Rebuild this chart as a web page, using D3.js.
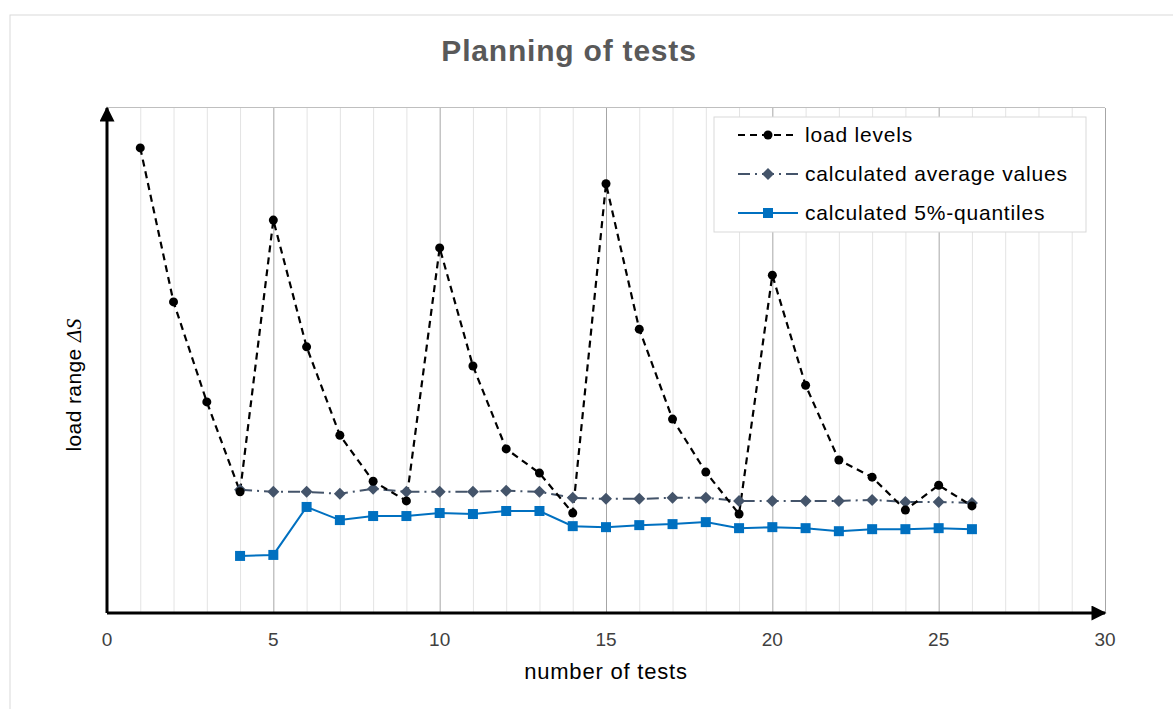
<!DOCTYPE html>
<html>
<head>
<meta charset="utf-8">
<script src="https://cdn.jsdelivr.net/npm/d3@7"></script>
<style>
  body { margin: 0; background: #fff; }
  text { font-family: "Liberation Sans", Arial, sans-serif; }
</style>
</head>
<body>
<svg id="chart"></svg>
<script>
// data (y in arbitrary units, no y ticks in original)
var loadX = d3.range(1, 27);
var loadLevels = [92.1, 61.6, 41.8, 24.0, 77.8, 52.7, 35.2, 26.1, 22.2, 72.3, 48.9, 32.5, 27.7,
                  19.8, 85.0, 56.2, 38.4, 27.9, 19.6, 66.9, 45.1, 30.3, 26.9, 20.4, 25.3, 21.2];
var calcX = d3.range(4, 27);
var avgValues = [24.4, 24.0, 24.0, 23.6, 24.6, 24.0, 24.0, 24.0, 24.2, 24.0, 22.8, 22.6, 22.6,
                 22.8, 22.8, 22.2, 22.2, 22.2, 22.2, 22.4, 22.0, 22.0, 21.8];
var quantiles = [11.3, 11.5, 21.0, 18.4, 19.2, 19.2, 19.8, 19.6, 20.2, 20.2, 17.2, 17.0, 17.4,
                 17.6, 18.0, 16.8, 17.0, 16.8, 16.2, 16.6, 16.6, 16.8, 16.6];
var xTicks = [0, 5, 10, 15, 20, 25, 30];
var legendLabels = ["load levels", "calculated average values", "calculated 5%-quantiles"];

var width = 1173, height = 709;
var svg = d3.select("#chart").attr("width", width).attr("height", height);

var x = d3.scaleLinear().domain([0, 30]).range([107, 1105]);
var y = d3.scaleLinear().domain([0, 100]).range([613, 108]);

// outer frame
svg.append("rect")
  .attr("x", 10).attr("y", 15).attr("width", 1175).attr("height", 700)
  .attr("fill", "none").attr("stroke", "#d9d9d9").attr("stroke-width", 1);

svg.append("text")
  .attr("x", 569).attr("y", 61)
  .attr("text-anchor", "middle")
  .style("font-size", "30px").style("font-weight", "bold")
  .style("letter-spacing", "0.8px")
  .attr("fill", "#595959")
  .text("Planning of tests");

// grid
var grid = svg.append('g')
grid.selectAll("line")
  .data(d3.range(1, 31))
 .enter().append("line")
  .attr("x1", function(d) { return x(d) + 0.5; })
  .attr("x2", function(d) { return x(d) + 0.5; })
  .attr("y1", y(100)).attr("y2", y(0))
  .attr("stroke", function(d) { return d % 5 == 0 ? "#a6a6a6" : "#e3e3e3"; })
  .attr("stroke-width", 1);

grid.append("line")
  .attr("x1", x(0)).attr("x2", x(30))
  .attr("y1", y(100) - 0.5).attr("y2", y(100) - 0.5)
  .attr("stroke", "#bfbfbf");

// axes with arrows
var defs = svg.append("defs");
defs.append("marker")
  .attr("id", "arrow")
  .attr("viewBox", "0 0 10 10")
  .attr("refX", 9).attr("refY", 5)
  .attr("markerWidth", 6).attr("markerHeight", 5)
  .attr("markerUnits", "strokeWidth")
  .attr("orient", "auto")
 .append("path")
  .attr("d", "M0,0 L10,5 L0,10 z")
  .attr("fill", "#000");

svg.append("line")
  .attr("x1", x(0)).attr("x2", x(30))
  .attr("y1", y(0)).attr("y2", y(0))
  .attr("stroke", "#000").attr("stroke-width", 3)
  .attr("marker-end", "url(#arrow)");

svg.append("line")
  .attr("x1", x(0)).attr("x2", x(0))
  .attr("y1", y(0)).attr("y2", y(100))
  .attr("stroke", "#000").attr("stroke-width", 3)
  .attr("marker-end", "url(#arrow)");

// x tick labels
svg.append('g').selectAll("text")
  .data(xTicks)
 .enter().append("text")
  .attr("x", function(d) { return x(d); })
  .attr("y", 646)
  .attr("text-anchor", "middle")
  .style("font-size", "19px")
  .attr("fill", "#404040")
  .text(function(d) { return d; });

svg.append("text")
  .attr("x", x(15)).attr("y", 679)
  .attr("text-anchor", "middle")
  .style("font-size", "22px")
  .style("letter-spacing", "0.8px")
  .attr("fill", "#000")
  .text("number of tests");

var yl = svg.append("text")
  .attr("transform", "translate(81,385) rotate(-90)")
  .attr("text-anchor", "middle")
  .style("font-size", "21px")
  .style("letter-spacing", "0.4px")
  .attr("fill", "#000");
yl.append("tspan").text("load range ");
yl.append("tspan").style("font-family", "'Liberation Serif', serif").style("font-style", "italic").text("ΔS");

// series
var lineFn = d3.line()
  .x(function(d) { return x(d[0]); })
  .y(function(d) { return y(d[1]); });

var loadData = d3.zip(loadX, loadLevels);
var avgData = d3.zip(calcX, avgValues);
var qData = d3.zip(calcX, quantiles);

var points = svg.append('g')

points.append("path")
  .attr("d", lineFn(avgData))
  .attr("fill", "none").attr("stroke", "#44546a").attr("stroke-width", 2)
  .attr("stroke-dasharray", "12,5,2,5");

points.append("path")
  .attr("d", lineFn(qData))
  .attr("fill", "none").attr("stroke", "#0070c0").attr("stroke-width", 2);

points.append("path")
  .attr("d", lineFn(loadData))
  .attr("fill", "none").attr("stroke", "#000").attr("stroke-width", 2.2)
  .attr("stroke-dasharray", "7,5");

var diamond = "M0,-6L6,0L0,6L-6,0Z";

points.selectAll(".avg")
  .data(avgData)
 .enter().append("path")
  .attr("class", "avg")
  .attr("transform", function(d) { return "translate(" + x(d[0]) + "," + y(d[1]) + ")"; })
  .attr("d", diamond)
  .attr("fill", "#44546a");

points.selectAll(".q")
  .data(qData)
 .enter().append("rect")
  .attr("class", "q")
  .attr("x", function(d) { return x(d[0]) - 5; })
  .attr("y", function(d) { return y(d[1]) - 5; })
  .attr("width", 10).attr("height", 10)
  .attr("fill", "#0070c0");

points.selectAll(".ld")
  .data(loadData)
 .enter().append("circle")
  .attr("class", "ld")
  .attr("cx", function(d) { return x(d[0]); })
  .attr("cy", function(d) { return y(d[1]); })
  .attr("r", 4.5)
  .attr("fill", "#000");

// legend
var legend = svg.append('g').attr("transform", "translate(714,117)");
legend.append("rect")
  .attr("width", 372).attr("height", 115)
  .attr("fill", "#fff").attr("stroke", "#d9d9d9");

var styles = [
  { color: "#000", dash: "7,5", w: 2.2 },
  { color: "#44546a", dash: "12,5,2,5", w: 2 },
  { color: "#0070c0", dash: null, w: 2 }
];

legendLabels.forEach(function(label, i) {
  var ly = 18 + i * 39;
  var st = styles[i];
  legend.append("line")
    .attr("x1", 24).attr("x2", 84)
    .attr("y1", ly).attr("y2", ly)
    .attr("stroke", st.color).attr("stroke-width", st.w)
    .attr("stroke-dasharray", st.dash);
  if (i == 0) {
    legend.append("circle").attr("cx", 54).attr("cy", ly).attr("r", 4.5).attr("fill", "#000");
  } else if (i == 1) {
    legend.append("path").attr("transform", "translate(54," + ly + ")").attr("d", diamond).attr("fill", st.color);
  } else {
    legend.append("rect").attr("x", 49).attr("y", ly - 5).attr("width", 10).attr("height", 10).attr("fill", st.color);
  }
  legend.append("text")
    .attr("x", 91).attr("y", ly + 7)
    .style("font-size", "21px")
    .style("letter-spacing", "0.8px")
    .attr("fill", "#000")
    .text(label);
});
</script>
</body>
</html>
